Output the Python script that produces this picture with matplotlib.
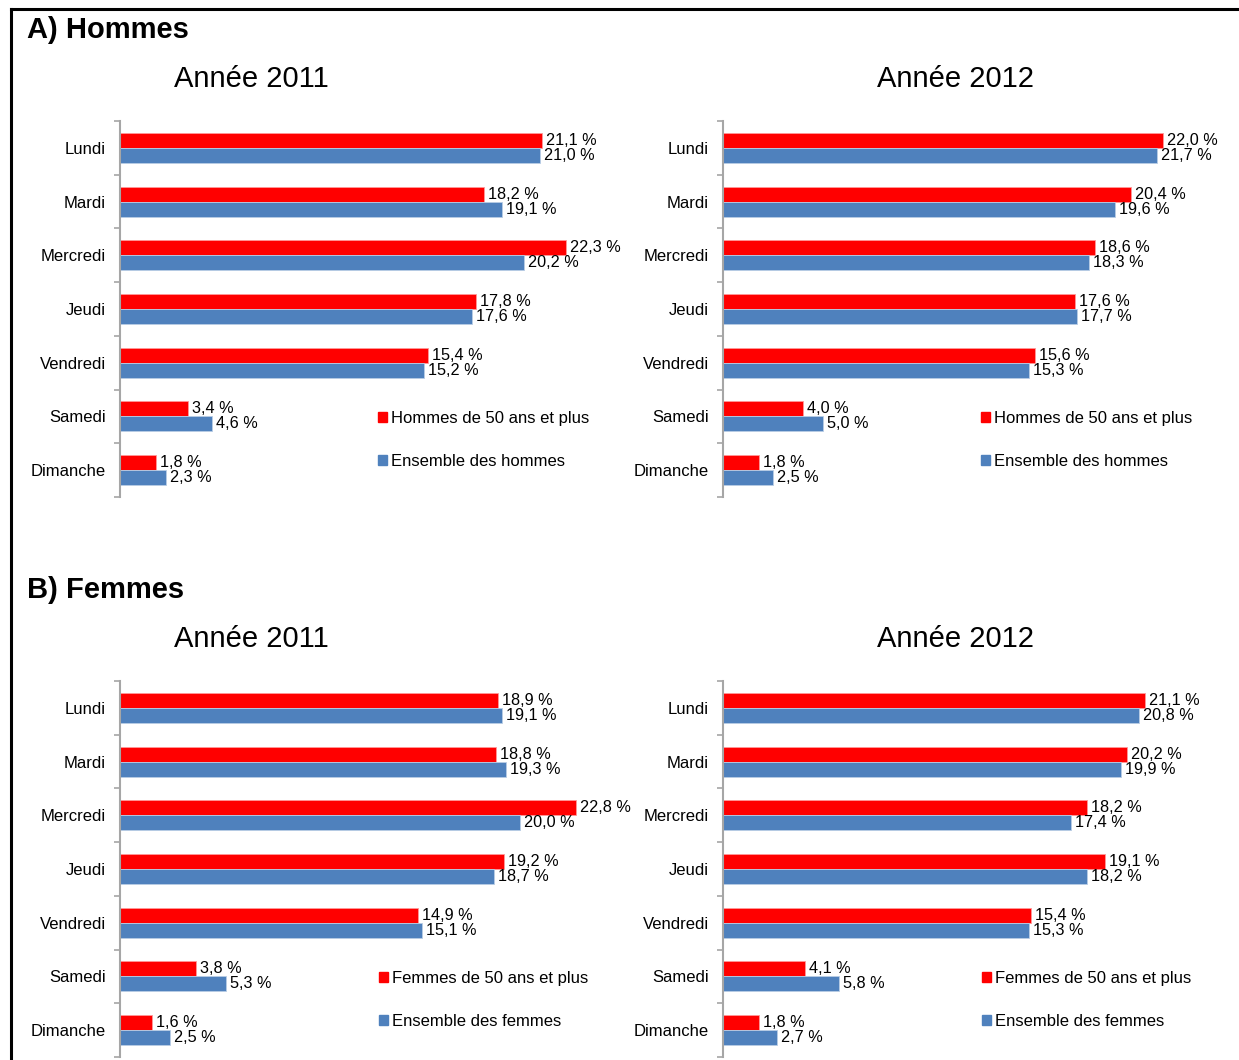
import numpy as np
import matplotlib
matplotlib.use("Agg")
import matplotlib.pyplot as plt
from matplotlib.patches import Patch
from matplotlib.lines import Line2D

plt.rcParams['font.family'] = ['Liberation Sans', 'DejaVu Sans']

jours = ["Lundi", "Mardi", "Mercredi", "Jeudi", "Vendredi", "Samedi", "Dimanche"]

hommes_50_2011 = [21.1, 18.2, 22.3, 17.8, 15.4, 3.4, 1.8]
hommes_all_2011 = [21.0, 19.1, 20.2, 17.6, 15.2, 4.6, 2.3]
hommes_50_2012 = [22.0, 20.4, 18.6, 17.6, 15.6, 4.0, 1.8]
hommes_all_2012 = [21.7, 19.6, 18.3, 17.7, 15.3, 5.0, 2.5]
femmes_50_2011 = [18.9, 18.8, 22.8, 19.2, 14.9, 3.8, 1.6]
femmes_all_2011 = [19.1, 19.3, 20.0, 18.7, 15.1, 5.3, 2.5]
femmes_50_2012 = [21.1, 20.2, 18.2, 19.1, 15.4, 4.1, 1.8]
femmes_all_2012 = [20.8, 19.9, 17.4, 18.2, 15.3, 5.8, 2.7]

RED = "#FF0000"
BLUE = "#4F81BD"
GREY = "#A6A6A6"

W, H = 1239, 1060
fig = plt.figure(figsize=(W / 100, H / 100), dpi=100)


def fx(px):
    return px / W


def fy(py):
    return 1 - py / H


def fmt(v):
    return f"{v:.1f} %".replace(".", ",")


def panel(left_px, top_px, red_vals, blue_vals, red_lab, blue_lab, title, title_x, leg_px):
    ax = fig.add_axes([fx(left_px), fy(top_px + 376), 500 / W, 376 / H])
    n = len(jours)
    y = np.arange(n)[::-1]
    h = 0.28
    b1 = ax.barh(y + h / 2, red_vals, height=h, color=RED, edgecolor="#FF9999", linewidth=0.6)
    b2 = ax.barh(y - h / 2, blue_vals, height=h, color=BLUE, edgecolor="#B9CDE5", linewidth=0.6)
    ax.bar_label(b1, labels=[fmt(v) for v in red_vals], padding=3, fontsize=11.7)
    ax.bar_label(b2, labels=[fmt(v) for v in blue_vals], padding=3, fontsize=11.7)
    ax.set_xlim(0, 25)
    ax.set_ylim(-0.5, n - 0.5)
    ax.set_yticks(y)
    ax.set_yticklabels(jours, fontsize=12)
    ax.tick_params(axis="y", which="major", length=0, pad=10)
    ax.set_yticks(np.arange(n + 1) - 0.5, minor=True)
    ax.tick_params(axis="y", which="minor", length=4, color=GREY, width=1.2)
    ax.set_xticks([])
    for s in ["top", "right", "bottom"]:
        ax.spines[s].set_visible(False)
    ax.spines["left"].set_color(GREY)
    ax.spines["left"].set_linewidth(1.5)
    handles = [Patch(color=RED), Patch(color=BLUE)]
    ax.legend(handles, [red_lab, blue_lab], loc="upper left",
              bbox_to_anchor=(fx(leg_px[0]), fy(leg_px[1])), bbox_transform=fig.transFigure,
              frameon=False, fontsize=12, handlelength=0.55, handleheight=0.55,
              handletextpad=0.25, labelspacing=1.65, borderpad=0, borderaxespad=0)
    fig.text(fx(title_x), fy(top_px - 42), title, fontsize=21, ha="center", va="center")


panel(120, 121, hommes_50_2011, hommes_all_2011,
      "Hommes de 50 ans et plus", "Ensemble des hommes", "Année 2011", 251, (378, 411))
panel(723, 121, hommes_50_2012, hommes_all_2012,
      "Hommes de 50 ans et plus", "Ensemble des hommes", "Année 2012", 955, (981, 411))
panel(120, 681, femmes_50_2011, femmes_all_2011,
      "Femmes de 50 ans et plus", "Ensemble des femmes", "Année 2011", 251, (379, 971))
panel(723, 681, femmes_50_2012, femmes_all_2012,
      "Femmes de 50 ans et plus", "Ensemble des femmes", "Année 2012", 955, (982, 971))

fig.text(fx(27), fy(30), "A) Hommes", fontsize=21, fontweight="bold", ha="left", va="center")
fig.text(fx(27), fy(590), "B) Femmes", fontsize=21, fontweight="bold", ha="left", va="center")

# cadre noir (haut et gauche)
fig.add_artist(Line2D([fx(11), 1.0], [fy(9), fy(9)], color="black", linewidth=2.2, transform=fig.transFigure))
fig.add_artist(Line2D([fx(11), fx(11)], [fy(9), 0.0], color="black", linewidth=2.2, transform=fig.transFigure))

fig.savefig("out.png", dpi=100)
